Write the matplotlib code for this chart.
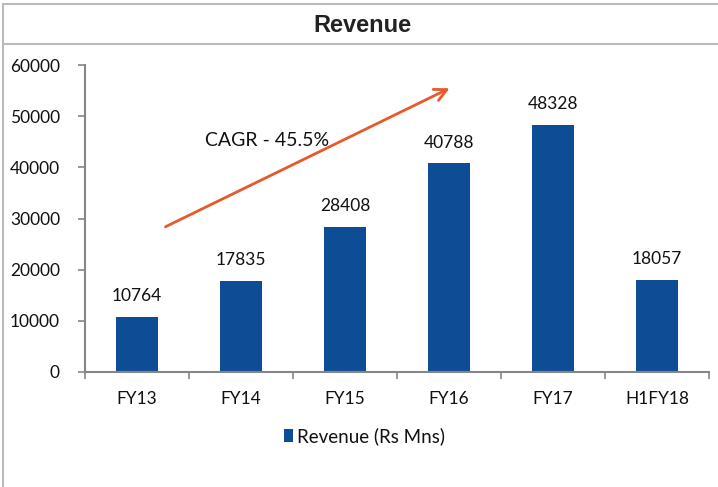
import matplotlib
matplotlib.use("Agg")
import matplotlib.pyplot as plt
from matplotlib.lines import Line2D
from matplotlib.patches import Rectangle

categories = ["FY13", "FY14", "FY15", "FY16", "FY17", "H1FY18"]
revenue = [10764, 17835, 28408, 40788, 48328, 18057]
yticks = [0, 10000, 20000, 30000, 40000, 50000, 60000]
series_name = "Revenue (Rs Mns)"
title = "Revenue"
cagr_text = "CAGR - 45.5%"

bar_color = "#0F4C96"
axis_color = "#868686"
text_font = ["Lato", "DejaVu Sans"]

fig = plt.figure(figsize=(7.18, 4.87), dpi=100)
W, H = 718, 487
ax = fig.add_axes([85 / W, 1 - 372 / H, (709 - 85) / W, (372 - 65) / H])

x = list(range(len(categories)))
ax.bar(x, revenue, width=0.4, color=bar_color, zorder=2)
ax.set_xlim(-0.5, len(categories) - 0.5)
ax.set_ylim(0, 60000)
ax.set_yticks(yticks)
ax.set_yticklabels([str(v) for v in yticks], fontfamily=text_font, fontsize=12.5, color="#111111")
ax.set_xticks(x)
ax.set_xticklabels(categories, fontfamily=text_font, fontsize=12.5, color="#111111")
ax.tick_params(axis="x", length=0, pad=14)
ax.tick_params(axis="y", length=5, color=axis_color, width=1.2, pad=13)
ax.set_xticks([i - 0.5 for i in range(len(categories) + 1)], minor=True)
ax.tick_params(axis="x", which="minor", length=5, color=axis_color, width=1.2, direction="out")
for s in ["top", "right"]:
    ax.spines[s].set_visible(False)
for s in ["left", "bottom"]:
    ax.spines[s].set_color(axis_color)
    ax.spines[s].set_linewidth(1.5)

for xi, v in zip(x, revenue):
    ax.annotate(str(v), (xi, v), xytext=(0, 9), textcoords="offset points",
                ha="center", va="bottom", fontfamily=text_font, fontsize=12.5, color="#111111")

ax.annotate("", xy=(3.03, 55700), xytext=(0.25, 28150),
            arrowprops=dict(arrowstyle="->", color="#E55A2B", lw=2, mutation_scale=22))
ax.text(1.25, 45300, cagr_text, ha="center", va="center", fontfamily=text_font,
        fontsize=14, color="#111111")

fig.patches.append(Rectangle((284 / W, 1 - 442 / H), 9 / W, 13 / H, transform=fig.transFigure,
                             facecolor=bar_color, edgecolor="none"))
fig.text(297 / W, 1 - 436 / H, series_name, ha="left", va="center", fontfamily=text_font,
         fontsize=13.5, color="#111111")

fig.text(362 / W, 1 - 26 / H, title, ha="center", va="center", fontfamily="Liberation Sans",
         fontweight="bold", fontsize=17, color="#222222")
border = "#BBBBBB"
fig.add_artist(Line2D([3 / W, 1], [1 - 4 / H, 1 - 4 / H], color=border, lw=1.5, transform=fig.transFigure))
fig.add_artist(Line2D([3 / W, 1], [1 - 44 / H, 1 - 44 / H], color=border, lw=1.5, transform=fig.transFigure))
fig.add_artist(Line2D([3 / W, 3 / W], [0, 1 - 4 / H], color=border, lw=1.5, transform=fig.transFigure))

fig.savefig("out.png", dpi=100)
